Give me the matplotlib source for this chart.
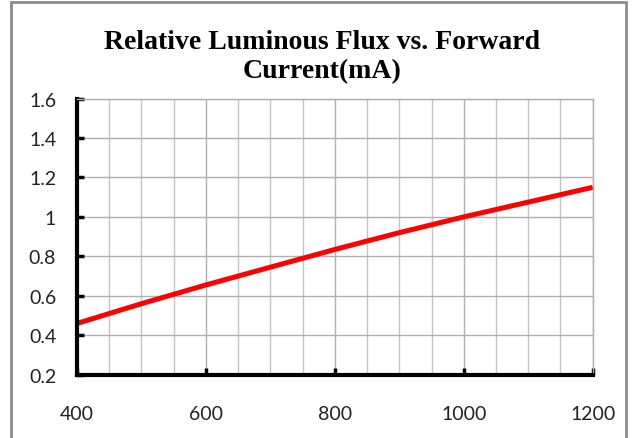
import numpy as np
import matplotlib.pyplot as plt
from matplotlib.patches import Rectangle
from matplotlib.ticker import MultipleLocator

# forward current (mA) and relative luminous flux
corriente = [400, 500, 600, 700, 800, 900, 1000, 1100, 1200]
flujo = [0.46, 0.56, 0.655, 0.745, 0.835, 0.92, 1.0, 1.075, 1.15]

titulo = 'Relative Luminous Flux vs. Forward\nCurrent(mA)'

fig = plt.figure(figsize=(6.32, 4.39), dpi=100)
ax = fig.add_axes([0.1218, 0.1442, 0.8160, 0.6291])

# marco gris de la figura
fig.patches.append(Rectangle((11/632, -0.05), 615/632, 1.05 - 3/439,
                             transform=fig.transFigure, fill=False,
                             edgecolor='#8c8c8c', linewidth=2))

ax.plot(corriente, flujo, color='#ff0000', linewidth=3.6, solid_capstyle='butt')

ax.set_xlim(400, 1200)
ax.set_ylim(0.2, 1.6)
ax.xaxis.set_major_locator(MultipleLocator(200))
ax.xaxis.set_minor_locator(MultipleLocator(50))
ax.yaxis.set_major_locator(MultipleLocator(0.2))
ax.yaxis.set_major_formatter(plt.FuncFormatter(lambda v, p: '%g' % round(v, 1)))

ax.grid(which='major', color='#b0b0b0', linewidth=1)
ax.grid(which='minor', axis='x', color='#c4c4c4', linewidth=1)
ax.set_axisbelow(True)

ax.tick_params(axis='both', which='major', direction='in', length=5, width=2.5,
               labelsize=14, color='black')
ax.tick_params(axis='x', pad=22)
ax.tick_params(axis='y', pad=15)
ax.tick_params(which='minor', length=0)
for lab in ax.get_xticklabels() + ax.get_yticklabels():
    lab.set_fontfamily(['Lato', 'DejaVu Sans'])
    lab.set_color('#222222')

for s in ['left', 'bottom']:
    ax.spines[s].set_linewidth(3)
    ax.spines[s].set_color('black')
for s in ['top', 'right']:
    ax.spines[s].set_linewidth(1)
    ax.spines[s].set_color('#b0b0b0')

fig.text(0.51, 0.87, titulo, ha='center', va='center', fontsize=20,
         fontweight='bold', family='Liberation Serif', linespacing=1.2)

fig.savefig('out.png', dpi=100)
